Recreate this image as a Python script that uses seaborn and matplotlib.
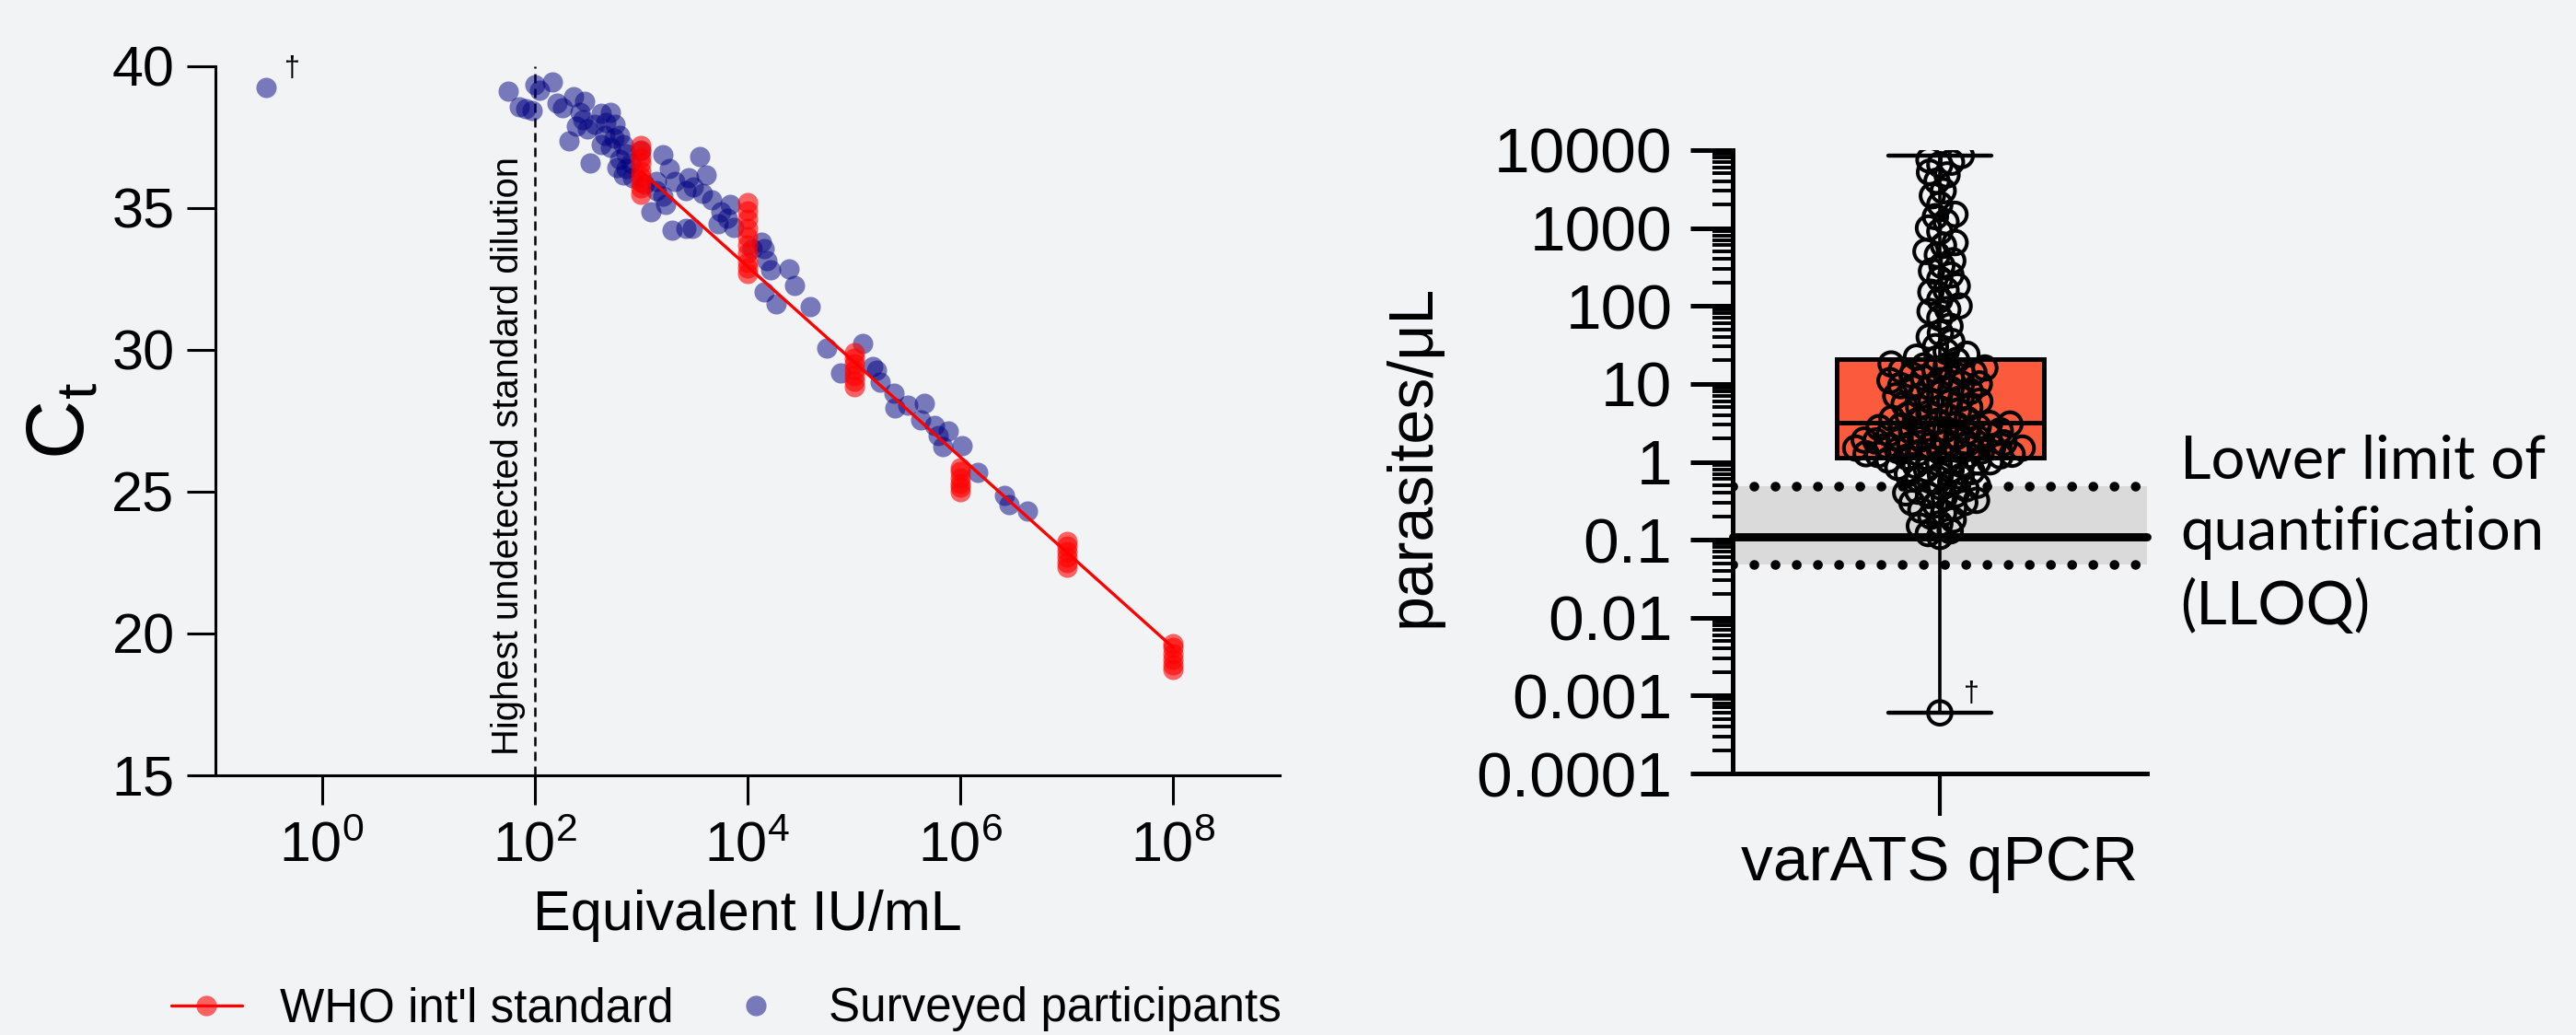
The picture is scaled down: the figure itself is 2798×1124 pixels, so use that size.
import numpy as np
import pandas as pd
import matplotlib
matplotlib.use("Agg")
import matplotlib.pyplot as plt
import seaborn as sns
from matplotlib.lines import Line2D
from matplotlib.ticker import FixedLocator, FixedFormatter, LogLocator, NullFormatter, NullLocator

# ---------------- data ----------------
# Left panel: WHO international standard dilution series (Equivalent IU/mL, Ct)
std_iu = ([1e3] * 9 + [1e4] * 10 + [1e5] * 7 + [1e6] * 6 + [1e7] * 6 + [1e8] * 6)
std_ct = [37.2, 37.0, 36.8, 36.6, 36.3, 36.1, 35.9, 35.7, 35.5,
          35.2, 34.9, 34.6, 34.3, 34.0, 33.7, 33.4, 33.1, 32.9, 32.7,
          29.9, 29.7, 29.5, 29.3, 29.1, 28.9, 28.7,
          25.85, 25.7, 25.5, 25.3, 25.15, 25.0,
          23.25, 23.1, 22.9, 22.7, 22.5, 22.35,
          19.65, 19.5, 19.3, 19.1, 18.9, 18.75]
# standard curve (regression line) end points
fit_iu = [1e3, 1e8]
fit_ct = [36.3, 19.5]

# Surveyed participants: log10(equivalent IU/mL) and Ct
surv_log_iu = [-0.52,
               1.755, 1.856, 1.919, 2.006, 2.043, 2.164, 1.977, 2.208, 2.265, 2.367,
               2.467, 2.424, 2.323, 2.496, 2.525, 2.626, 2.713, 2.568, 2.669, 2.756,
               2.800, 2.626, 2.713, 2.800, 2.857, 2.915, 2.770, 2.829, 2.395, 2.453,
               3.088, 3.203, 3.261, 3.146, 3.232, 3.319, 3.290, 3.420, 3.478, 3.550,
               3.607, 3.449, 3.492, 3.579, 3.665, 3.420, 3.752, 3.838, 3.810, 3.867,
               3.723, 3.204, 3.146, 4.156, 4.185, 4.387, 4.444, 4.156, 4.271, 4.589,
               4.748, 4.877, 4.213, 4.127, 3.000, 3.030, 4.040, 2.857, 2.742, 2.900,
               2.655, 2.830, 5.080, 5.180, 5.210, 5.247, 5.374, 5.383, 5.507, 5.663,
               5.628, 5.758, 5.787, 5.888, 5.836, 6.012, 6.162, 6.413, 6.459, 6.632]
surv_ct = [39.25,
           39.11, 38.57, 38.50, 39.36, 39.15, 39.44, 38.44, 38.71, 38.55, 38.93,
           38.77, 38.39, 37.36, 37.79, 36.60, 38.33, 38.39, 37.96, 38.01, 37.96,
           37.58, 37.25, 37.14, 36.71, 36.39, 36.06, 36.44, 37.25, 37.90, 38.12,
           34.87, 36.87, 36.39, 35.63, 35.14, 35.95, 34.22, 34.28, 34.28, 36.82,
           36.17, 36.06, 35.74, 35.52, 35.30, 35.63, 34.87, 35.14, 34.65, 34.33,
           34.44, 35.41, 35.95, 33.57, 33.14, 32.87, 32.27, 32.06, 31.62, 31.51,
           30.05, 29.19, 32.82, 33.79, 37.03, 35.84, 33.57, 36.93, 37.47, 36.60,
           37.58, 36.17, 30.22, 29.40, 29.30, 28.86, 28.49, 27.94, 28.05, 28.11,
           27.53, 27.35, 26.97, 27.13, 26.59, 26.62, 25.67, 24.86, 24.54, 24.32]
surv_iu = 10 ** np.array(surv_log_iu)

left_xticks = [1e0, 1e2, 1e4, 1e6, 1e8]
left_yticks = [15, 20, 25, 30, 35, 40]

# Right panel: parasites/uL by varATS qPCR
para_high = [8500, 7500, 7000, 6500, 5200, 4800, 4000, 3000, 2600, 2000, 1500,
             1400, 1200, 1000, 900, 650, 600, 500, 450, 380, 330, 280, 250, 220,
             180, 160, 150, 120, 100, 90, 85, 70, 55, 45, 40, 35, 30, 26, 24,
             22, 21, 20]
para_upper_mid = [18, 17, 17, 16, 15, 15, 14, 14, 13, 12, 12, 11, 11, 10, 10,
                  9.5, 9, 9, 8.5, 8, 7.5, 7, 7, 6.5, 6, 6, 5.8, 5.5, 5, 5,
                  4.8, 4.5, 4.2, 4, 3.8, 3.6, 3.5, 3.4, 3.3]
para_lower_mid = [3.1, 3.05, 3.0, 2.9, 2.8, 2.75, 2.7, 2.6, 2.5, 2.45, 2.4,
                  2.3, 2.2, 2.15, 2.1, 2.0, 2.0, 1.95, 1.9, 1.85, 1.8, 1.75,
                  1.7, 1.65, 1.6, 1.6, 1.55, 1.5, 1.5, 1.45, 1.4, 1.38, 1.35,
                  1.3, 1.27, 1.25, 1.24, 1.21, 1.19]
para_low = [1.15, 1.12, 1.1, 1.05, 1.0, 1.0, 0.95, 0.92, 0.9, 0.85, 0.8, 0.78,
            0.75, 0.7, 0.68, 0.65, 0.6, 0.58, 0.55, 0.5, 0.48, 0.45, 0.42,
            0.4, 0.38, 0.37, 0.35, 0.32, 0.3, 0.3, 0.28, 0.26, 0.24, 0.22,
            0.2, 0.18, 0.16, 0.15, 0.13, 0.12, 0.11, 0.0006]
para_vals = para_high + para_upper_mid + para_lower_mid + para_low
assay_label = "varATS qPCR"
lloq = 0.11
lloq_band = (0.048, 0.48)
right_yticks = [1e4, 1e3, 1e2, 1e1, 1e0, 1e-1, 1e-2, 1e-3, 1e-4]
right_ylabels = ["10000", "1000", "100", "10", "1", "0.1", "0.01", "0.001", "0.0001"]

# ---------------- style ----------------
BG = "#f2f3f5"
sns.set_theme(style="ticks", rc={
    "axes.facecolor": BG, "figure.facecolor": BG, "axes.edgecolor": "black",
    "text.color": "black", "axes.labelcolor": "black",
    "xtick.color": "black", "ytick.color": "black"})
plt.rcParams["font.family"] = ["Liberation Sans", "DejaVu Sans"]
plt.rcParams["mathtext.fontset"] = "custom"
plt.rcParams["mathtext.rm"] = "Liberation Sans"
plt.rcParams["mathtext.it"] = "Liberation Sans:italic"
plt.rcParams["mathtext.bf"] = "Liberation Sans:bold"

W, H = 2798, 1124
DPI = 200
fig = plt.figure(figsize=(W / DPI, H / DPI), dpi=DPI, facecolor=BG)

def px_axes(x0, y_top, x1, y_bot):
    return [x0 / W, 1 - y_bot / H, (x1 - x0) / W, (y_bot - y_top) / H]

axL = fig.add_axes(px_axes(234, 72, 1390, 842))
axR = fig.add_axes(px_axes(1882, 163, 2332, 840))

# ---------------- left panel ----------------
axL.set_xscale("log")
sns.scatterplot(x=surv_iu, y=surv_ct, color="navy", alpha=0.5, s=63,
                linewidth=0, ax=axL, zorder=3, legend=False)
sns.lineplot(x=fit_iu, y=fit_ct, color="red", lw=1.2, ax=axL, zorder=4, legend=False)
sns.scatterplot(x=std_iu, y=std_ct, color="red", alpha=0.6, s=63,
                linewidth=0, ax=axL, zorder=5, legend=False)

axL.plot([100, 100], [15, 40], color="black", lw=0.9, ls=(0, (4, 2.4)), zorder=2)
axL.text(56, 15.7, "Highest undetected standard dilution", rotation=90,
         ha="center", va="bottom", fontsize=14.4)
axL.text(10 ** -0.277, 39.9, "\u2020", fontsize=11, ha="center", va="center")

axL.set_xlim(0.1, 1e9)
axL.set_ylim(15, 40)
axL.xaxis.set_major_locator(FixedLocator(left_xticks))
axL.xaxis.set_minor_locator(NullLocator())
axL.yaxis.set_major_locator(FixedLocator(left_yticks))
for s in ["top", "right"]:
    axL.spines[s].set_visible(False)
for s in ["left", "bottom"]:
    axL.spines[s].set_linewidth(1.1)
axL.tick_params(axis="y", direction="out", length=11, width=1.1, labelsize=22, pad=5)
axL.tick_params(axis="x", direction="out", length=11.5, width=1.1, labelsize=22, pad=6.5)
axL.set_xlabel("Equivalent IU/mL", fontsize=22)
axL.xaxis.set_label_coords(0.5, (842 - 966) / 770)
axL.set_ylabel(r"$\mathregular{C_t}$", fontsize=32)
axL.yaxis.set_label_coords((110 - 234) / 1156, 0.5)

handles = [Line2D([], [], color="red", lw=1.2, marker="o", markersize=8,
                  markerfacecolor=(1, 0, 0, 0.6), markeredgewidth=0),
           Line2D([], [], color=(0, 0, 0.5, 0.5), lw=0, marker="o", markersize=8,
                  markeredgewidth=0)]
fig.legend(handles, ["WHO int'l standard", "Surveyed participants"],
           loc="center", bbox_to_anchor=(789 / W, 1 - 1096 / H), ncol=2,
           frameon=False, fontsize=18.4, handlelength=1.5, handletextpad=0.8,
           columnspacing=1.0)

# ---------------- right panel ----------------
df = pd.DataFrame({"assay": [assay_label] * len(para_vals), "ppl": para_vals})

axR.axhspan(lloq_band[0], lloq_band[1], color="#dadada", lw=0, zorder=0.5)
for yv in lloq_band:
    axR.axhline(yv, xmin=0, xmax=0.975, color="black", lw=3.8,
                ls=(0, (0.01, 2.17)), dash_capstyle="round", zorder=0.8)
axR.axhline(lloq, xmin=0, xmax=1, color="black", lw=3.2,
            solid_capstyle="round", zorder=1.5, clip_on=False)

sns.boxplot(data=df, x="assay", y="ppl", ax=axR, width=0.5, whis=(0, 100),
            color="#fb5a3c", saturation=1, linecolor="black", linewidth=1.8,
            log_scale=True, showfliers=False,
            whiskerprops={"linewidth": 1.3}, capprops={"linewidth": 1.6},
            medianprops={"linewidth": 1.8})
sns.swarmplot(data=df, x="assay", y="ppl", ax=axR, size=3.0, color="black",
              linewidth=1.45, log_scale=True, zorder=4)

axR.set_xlim(-0.5, 0.5)
axR.set_ylim(1e-4, 1e4)
axR.yaxis.set_major_locator(FixedLocator(right_yticks))
axR.yaxis.set_major_formatter(FixedFormatter(right_ylabels))
axR.yaxis.set_minor_locator(LogLocator(base=10, subs=np.arange(2, 10), numticks=100))
axR.yaxis.set_minor_formatter(NullFormatter())
for s in ["top", "right"]:
    axR.spines[s].set_visible(False)
for s in ["left", "bottom"]:
    axR.spines[s].set_linewidth(1.8)
axR.tick_params(axis="y", which="major", direction="out", length=16.6, width=1.8,
                labelsize=25, pad=7)
axR.tick_params(axis="y", which="minor", direction="out", length=8, width=1.4)
axR.tick_params(axis="x", direction="out", length=16.6, width=1.5, labelsize=25, pad=7)
axR.set_xlabel("")
axR.set_ylabel("parasites/\u03bcL", fontsize=24.5)
axR.yaxis.set_label_coords(-0.702, 0.51)
axR.text(0.076, 0.00105, "\u2020", fontsize=11, ha="center", va="center")

fig.text(2368 / W, 1 - 472 / H, "Lower limit of\nquantification\n(LLOQ)",
         fontsize=23.5, family=["Lato", "DejaVu Sans"], ha="left", va="top",
         linespacing=1.38)

# compute swarm layout with a compact spacing, then draw overlapping open circles
fig.canvas.draw()
pts = axR.collections[-1]
if "draw" in pts.__dict__:
    del pts.draw
pts.set_sizes([85])
pts.set_facecolor("none")
pts.set_edgecolor("black")
pts.set_linewidth(1.45)

fig.savefig("out.png", dpi=DPI, facecolor=BG)
